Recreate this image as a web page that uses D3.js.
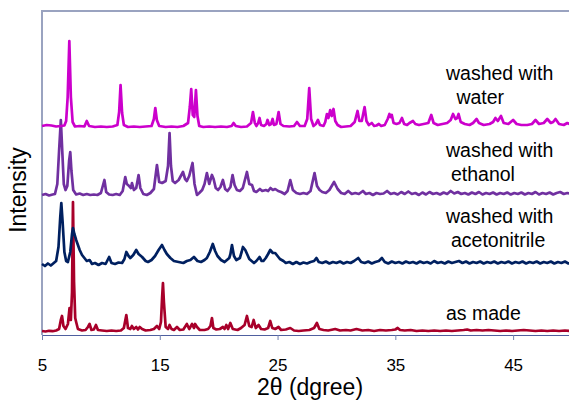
<!DOCTYPE html>
<meta charset="utf-8"/>
<head>
<script src="https://d3js.org/d3.v7.min.js"></script>
<style>
body { margin: 0; background: #fff; }
svg { display: block; font-family: "Liberation Sans", Arial, sans-serif; }
.trace { fill: none; stroke-width: 2.7px; stroke-linejoin: round; }
.lbl { font-size: 19.5px; fill: #000; }
</style>
</head>
<body>
<div id="chart"></div>
<script>

// 2θ ticks
var tickValues = [5, 15, 25, 35, 45];

// intensities above each trace's own baseline, [2θ, counts]
var asMade = [[5,10],[5.3,5],[5.6,12],[5.9,8],[6.2,15],[6.45,30],[6.6,120],[6.7,160],[6.82,60],[7.0,30],[7.2,80],[7.34,240],[7.45,120],[7.55,400],[7.63,1300],[7.72,500],[7.82,140],[7.9,100],[8.05,30],[8.4,15],[8.7,20],[8.9,50],[9.04,80],[9.2,20],[9.4,25],[9.58,70],[9.75,20],[10.1,15],[10.5,10],[10.9,15],[11.3,10],[11.7,15],[11.95,40],[12.16,170],[12.3,40],[12.5,30],[12.63,60],[12.8,30],[13.0,50],[13.15,25],[13.3,50],[13.5,30],[13.8,15],[14.2,20],[14.5,30],[14.76,60],[14.95,30],[15.1,100],[15.2,350],[15.27,490],[15.35,300],[15.5,50],[15.7,30],[15.83,70],[16.0,30],[16.2,20],[16.46,50],[16.7,20],[17.0,25],[17.3,80],[17.5,30],[17.74,80],[17.9,40],[18.0,80],[18.16,50],[18.4,20],[18.8,20],[19.1,30],[19.3,60],[19.43,140],[19.55,40],[19.8,25],[20.1,30],[20.36,50],[20.5,30],[20.65,70],[20.8,30],[20.99,90],[21.2,30],[21.6,20],[21.9,40],[22.2,70],[22.4,160],[22.6,60],[22.8,50],[22.97,120],[23.15,40],[23.39,70],[23.6,30],[23.9,25],[24.2,40],[24.38,110],[24.55,40],[24.8,30],[25.08,50],[25.3,20],[25.7,25],[26.08,40],[26.4,15],[26.8,10],[27.2,15],[27.7,20],[28.1,40],[28.34,90],[28.55,30],[28.9,20],[29.3,15],[29.9,30],[30.3,15],[30.8,20],[31.2,15],[31.7,30],[32.2,15],[32.7,20],[33.2,10],[33.7,20],[34.2,15],[34.7,20],[35.0,25],[35.2,40],[35.4,20],[35.8,15],[36.3,20],[36.8,10],[37.3,15],[37.8,10],[38.3,15],[38.8,10],[39.3,15],[39.8,10],[40.3,15],[40.8,20],[41.1,25],[41.4,15],[41.9,20],[42.4,15],[42.9,20],[43.4,15],[43.9,10],[44.4,15],[44.9,10],[45.4,15],[45.9,20],[46.4,15],[46.9,10],[47.4,15],[47.9,10],[48.4,15],[48.9,10],[49.4,15],[50,10]];

var acetonitrile = [[5,30],[5.25,10],[5.5,35],[5.75,15],[6.0,40],[6.2,60],[6.4,200],[6.55,500],[6.64,640],[6.75,450],[6.9,150],[7.05,60],[7.2,50],[7.4,150],[7.55,330],[7.63,390],[7.75,330],[7.9,270],[8.05,220],[8.2,170],[8.4,120],[8.6,90],[8.8,60],[9.04,70],[9.25,30],[9.5,40],[9.8,20],[10.1,40],[10.4,30],[10.7,100],[10.9,40],[11.2,30],[11.5,45],[11.8,40],[12.0,80],[12.16,150],[12.35,110],[12.5,90],[12.75,120],[13.0,170],[13.2,130],[13.5,100],[13.8,60],[14.0,50],[14.3,70],[14.6,110],[14.9,170],[15.19,220],[15.4,170],[15.6,130],[15.9,90],[16.2,60],[16.6,50],[17.0,40],[17.3,60],[17.6,70],[17.9,100],[18.2,60],[18.5,50],[18.8,70],[19.0,90],[19.25,150],[19.5,230],[19.7,160],[19.9,110],[20.2,70],[20.5,50],[20.7,70],[20.9,90],[21.0,130],[21.13,220],[21.3,110],[21.5,70],[21.8,90],[21.95,150],[22.06,200],[22.26,170],[22.45,120],[22.6,80],[22.8,60],[23.0,40],[23.2,60],[23.47,100],[23.65,60],[23.8,60],[24.0,90],[24.2,130],[24.38,170],[24.6,140],[24.8,140],[25.0,110],[25.2,80],[25.5,60],[25.7,40],[26.0,50],[26.3,30],[26.6,50],[26.9,30],[27.2,45],[27.5,35],[27.8,50],[28.1,60],[28.3,90],[28.5,50],[28.8,40],[29.1,55],[29.4,35],[29.7,50],[30.0,40],[30.3,55],[30.6,35],[30.9,50],[31.2,40],[31.5,60],[31.85,90],[32.1,50],[32.4,40],[32.7,55],[33.0,35],[33.3,50],[33.6,60],[33.86,90],[34.1,50],[34.4,35],[34.7,55],[35.0,40],[35.3,50],[35.6,35],[35.9,55],[36.2,40],[36.5,50],[36.8,35],[37.1,55],[37.4,40],[37.7,50],[38.0,35],[38.3,60],[38.6,40],[38.9,50],[39.2,35],[39.5,55],[39.8,40],[40.1,50],[40.4,60],[40.7,40],[41.0,55],[41.3,35],[41.6,50],[41.9,40],[42.2,55],[42.5,35],[42.8,50],[43.1,40],[43.4,55],[43.7,35],[44.0,50],[44.3,40],[44.6,55],[44.9,35],[45.2,50],[45.5,40],[45.8,55],[46.1,35],[46.4,50],[46.7,40],[47.0,55],[47.3,35],[47.6,50],[47.9,40],[48.2,55],[48.5,35],[48.8,50],[49.1,40],[49.4,55],[49.7,35],[50,45]];

var ethanol = [[5,10],[5.3,20],[5.6,5],[5.9,15],[6.1,20],[6.3,120],[6.45,450],[6.6,760],[6.72,450],[6.85,120],[7.0,60],[7.15,100],[7.3,350],[7.4,440],[7.5,250],[7.65,60],[7.9,15],[8.2,25],[8.5,10],[8.8,20],[9.1,10],[9.4,15],[9.7,10],[10.0,30],[10.3,160],[10.45,40],[10.7,15],[11.0,10],[11.3,20],[11.6,10],[11.85,50],[12.07,190],[12.2,120],[12.4,100],[12.55,80],[12.64,130],[12.8,60],[13.0,80],[13.2,210],[13.35,80],[13.6,20],[13.9,10],[14.2,30],[14.5,70],[14.76,310],[14.95,140],[15.2,130],[15.5,150],[15.7,300],[15.83,630],[15.95,300],[16.1,150],[16.3,130],[16.6,160],[16.97,240],[17.15,170],[17.3,150],[17.5,200],[17.78,330],[17.95,120],[18.16,10],[18.35,30],[18.6,60],[18.8,120],[19.0,230],[19.2,120],[19.35,180],[19.43,210],[19.57,170],[19.75,80],[19.95,60],[20.15,90],[20.36,160],[20.55,70],[20.75,50],[21.0,90],[21.18,210],[21.35,110],[21.55,60],[21.8,50],[22.05,80],[22.4,240],[22.6,120],[22.83,110],[23.0,50],[23.2,40],[23.5,70],[23.7,50],[24.0,60],[24.2,50],[24.4,80],[24.6,60],[24.8,70],[25.05,50],[25.3,40],[25.6,20],[25.85,50],[26.08,160],[26.3,60],[26.6,30],[26.9,20],[27.2,30],[27.5,20],[27.8,50],[28.14,230],[28.35,100],[28.57,60],[28.8,40],[29.1,30],[29.4,60],[29.8,140],[30.1,70],[30.4,30],[30.7,20],[31.0,50],[31.3,20],[31.6,30],[31.9,20],[32.25,50],[32.5,20],[32.8,30],[33.1,10],[33.4,30],[33.7,20],[34.0,25],[34.3,50],[34.6,20],[34.9,30],[35.2,15],[35.5,40],[35.8,20],[36.1,45],[36.4,20],[36.7,30],[37.0,10],[37.3,35],[37.6,15],[37.9,40],[38.2,20],[38.5,30],[38.8,15],[39.1,35],[39.4,20],[39.7,50],[40.0,25],[40.3,40],[40.6,20],[40.9,30],[41.2,15],[41.5,35],[41.8,20],[42.1,40],[42.4,15],[42.7,30],[43.0,20],[43.3,35],[43.6,15],[43.9,30],[44.2,20],[44.5,35],[44.8,15],[45.1,30],[45.4,20],[45.7,35],[46.0,15],[46.3,30],[46.6,20],[46.9,40],[47.2,15],[47.5,30],[47.8,20],[48.1,35],[48.4,15],[48.7,30],[49.0,40],[49.3,20],[49.6,30],[50,20]];

var water = [[5.0,10],[5.4,20],[5.8,15],[6.2,5],[6.6,10],[6.9,15],[7.05,60],[7.18,300],[7.32,860],[7.45,300],[7.6,50],[7.8,5],[8.2,10],[8.6,5],[8.8,60],[9.0,10],[9.5,0],[10,5],[10.5,0],[11,5],[11.4,20],[11.55,150],[11.67,420],[11.8,140],[11.95,20],[12.3,0],[12.8,5],[13.3,0],[13.8,5],[14.3,10],[14.5,80],[14.62,190],[14.75,70],[14.95,10],[15.5,0],[16,5],[16.5,0],[17,10],[17.4,40],[17.55,200],[17.67,380],[17.8,120],[17.93,100],[18.07,370],[18.2,110],[18.35,10],[18.7,0],[19.2,5],[19.7,0],[20.2,5],[20.7,0],[21.1,10],[21.27,40],[21.45,10],[21.9,0],[22.4,5],[22.75,40],[22.91,150],[23.07,40],[23.2,10],[23.35,40],[23.47,90],[23.6,20],[23.85,10],[24.05,30],[24.15,70],[24.3,20],[24.45,30],[24.58,80],[24.7,20],[24.9,30],[25.09,150],[25.25,30],[25.5,10],[26.0,5],[26.4,10],[26.65,50],[26.9,10],[27.3,10],[27.52,80],[27.69,390],[27.85,80],[28.05,10],[28.25,30],[28.43,70],[28.6,20],[28.9,10],[29.05,50],[29.19,130],[29.32,90],[29.47,170],[29.6,110],[29.75,180],[29.9,60],[30.1,20],[30.4,0],[30.8,5],[31.2,10],[31.55,50],[31.79,160],[31.95,60],[32.15,60],[32.39,200],[32.55,60],[32.75,20],[33.0,40],[33.2,10],[33.4,15],[33.6,30],[33.8,10],[34.1,20],[34.35,80],[34.5,130],[34.6,100],[34.7,120],[34.85,40],[35.1,30],[35.35,40],[35.56,90],[35.75,30],[36.0,20],[36.2,40],[36.5,60],[36.7,30],[37.0,20],[37.4,30],[37.8,40],[38.05,120],[38.25,40],[38.6,20],[39.0,30],[39.4,40],[39.7,70],[39.9,130],[40.1,80],[40.25,90],[40.37,130],[40.55,50],[40.9,30],[41.3,20],[41.6,40],[41.9,80],[42.1,40],[42.5,20],[43.0,30],[43.3,50],[43.5,90],[43.7,60],[43.97,110],[44.2,40],[44.6,30],[45.0,70],[45.3,30],[45.7,20],[46.2,20],[46.6,30],[46.9,70],[47.2,30],[47.6,40],[47.9,80],[48.2,40],[48.4,50],[48.6,80],[48.9,30],[49.3,20],[49.6,40],[50,20]];

// vertical shift of each trace and its colour, drawn bottom to top
var offsets = [30, 680, 1390, 2080];
var colors = ["#a8002a", "#002060", "#7030a0", "#cc00cc"];
var traces = [asMade, acetonitrile, ethanol, water];

var labels = [["as made"], ["washed with", "acetonitrile"], ["washed with", "ethanol"], ["washed with", " water"]];

var margin = { top: 11, left: 42 },
    outerWidth = 569, outerHeight = 400,
    width = 530, height = 324;

var x = d3.scaleLinear().domain([5, 50]).range([0, width]);
var y = d3.scaleLinear().domain([0, 3240]).range([height, 0]);

var svg = d3.select("#chart").append("svg")
    .attr("width", outerWidth)
    .attr("height", outerHeight);

var g = svg.append("g")
    .attr("transform", "translate(" + margin.left + "," + margin.top + ")");

// frame: top and left
g.append("path")
    .attr("d", "M0," + height + "V0H" + (width + 5))
    .attr("fill", "none")
    .attr("stroke", "#9aa3c0")
    .attr("stroke-width", 2);

var line = d3.line()
    .x(function(d) { return x(d[0]); })
    .y(function(d) { return y(d[1]); });

traces.forEach(function(t, i) {
  g.append("path")
    .attr("class", "trace")
    .attr("stroke", colors[i])
    .attr("d", line(t.map(function(d) { return [d[0], d[1] + offsets[i]]; })));
});

var xAxis = g.append("g")
    .attr("transform", "translate(0," + height + ")")
    .call(d3.axisBottom(x).tickValues(tickValues).tickSize(5).tickSizeOuter(0));
xAxis.select(".domain").attr("stroke", "#4f5f9f").attr("stroke-width", 1.2);
xAxis.selectAll(".tick line").attr("stroke", "#7280b0");
xAxis.selectAll(".tick text")
    .attr("y", 36).attr("dy", 0)
    .attr("font-size", "17px")
    .attr("font-family", "Liberation Sans, Arial, sans-serif")
    .attr("fill", "#000");

svg.append("text")
    .attr("x", 310).attr("y", 395)
    .attr("text-anchor", "middle")
    .attr("font-size", "23px")
    .text("2θ (dgree)");

svg.append("text")
    .attr("transform", "translate(26,190) rotate(-90)")
    .attr("text-anchor", "middle")
    .attr("font-size", "23px")
    .text("Intensity");

// trace labels: first line at x=39.3, second line slightly indented
var labelPos = [[39.3, 320], [39.3, 223], [39.3, 157], [39.3, 80]];
labels.forEach(function(ls, i) {
  ls.forEach(function(s, j) {
    svg.append("text")
      .attr("class", "lbl")
      .attr("xml:space", "preserve")
      .attr("x", margin.left + x(labelPos[i][0]) + (j > 0 ? 5 : 0))
      .attr("y", labelPos[i][1] + j * 23.5)
      .text(s);
  });
});

</script>
</body>
